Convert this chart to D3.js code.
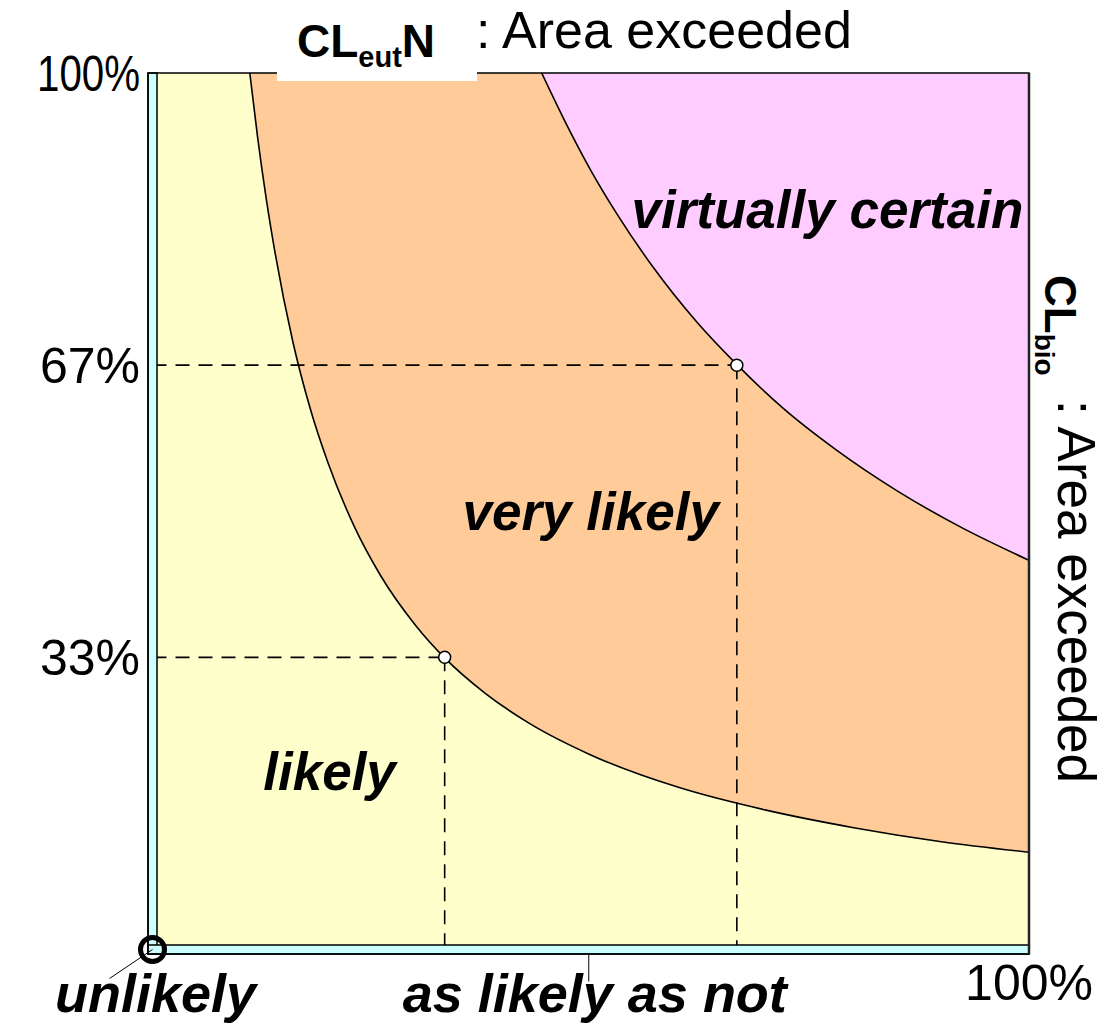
<!DOCTYPE html>
<html>
<head>
<meta charset="utf-8">
<script src="https://cdn.jsdelivr.net/npm/d3@7"></script>
<style>
  body { margin: 0; background: #fff; }
  text { font-family: Arial, "Liberation Sans", sans-serif; fill: #000; }
</style>
</head>
<body>
<script>
// boundary between "likely" and "very likely"
const lowX = [0.111, 0.12, 0.13, 0.14, 0.16, 0.18, 0.2, 0.23, 0.26, 0.3, 0.333, 0.38, 0.43, 0.5, 0.6, 0.7, 0.8, 0.9, 1.0];
const lowY = [1.0, 0.926, 0.855, 0.794, 0.694, 0.617, 0.556, 0.483, 0.427, 0.37, 0.333, 0.292, 0.258, 0.222, 0.185, 0.159, 0.139, 0.123, 0.111];
// boundary between "very likely" and "virtually certain"
const highX = [0.444, 0.47, 0.5, 0.53, 0.57, 0.62, 0.667, 0.72, 0.78, 0.85, 0.92, 1.0];
const highY = [1.0, 0.946, 0.889, 0.839, 0.78, 0.717, 0.667, 0.617, 0.57, 0.523, 0.483, 0.444];
// marked points on the curves
const markX = [1 / 3, 2 / 3];
const markY = [1 / 3, 2 / 3];
// y tick values and labels
const yTicks = [1 / 3, 2 / 3, 1];
const yTickLabels = ["33%", "67%", "100%"];
// zone names and where they sit
const zoneNames = ["virtually certain", "very likely", "likely"];
const zoneX = [0.77, 0.5, 0.202];
const zoneY = [0.823, 0.479, 0.182];

const width = 1105, height = 1024;

const svg = d3.select("body").append("svg")
  .attr("width", width)
  .attr("height", height);

const x = d3.scaleLinear().domain([0, 1]).range([152.5, 1029]);
const y = d3.scaleLinear().domain([0, 1]).range([949.5, 73]);

const strip = 4.5; // half width of the cyan axis strips
const inner = { x0: x(0) + strip, x1: x(1), y0: y(1), y1: y(0) - strip };

svg.append("defs").append("clipPath").attr("id", "plot")
  .append("rect")
  .attr("x", inner.x0).attr("y", inner.y0)
  .attr("width", inner.x1 - inner.x0).attr("height", inner.y1 - inner.y0);

const low = lowX.map((v, i) => [v, lowY[i]]);
const high = highX.map((v, i) => [v, highY[i]]);

const g = svg.append("g").attr("clip-path", "url(#plot)");

// yellow background
g.append("rect")
  .attr("x", inner.x0).attr("y", inner.y0)
  .attr("width", inner.x1 - inner.x0).attr("height", inner.y1 - inner.y0)
  .attr("fill", "#ffffcc");

const area = d3.area()
  .x(d => x(d[0]))
  .y0(d => y(d[1]))
  .y1(y(1))
  .curve(d3.curveMonotoneX);

g.append("path").datum(low).attr("d", area).attr("fill", "#ffcc99");
g.append("path").datum(high).attr("d", area).attr("fill", "#ffccff");

const line = d3.line()
  .x(d => x(d[0]))
  .y(d => y(d[1]))
  .curve(d3.curveMonotoneX);

g.selectAll("path.curve")
  .data([low, high])
  .join("path")
  .attr("class", "curve")
  .attr("d", line)
  .attr("fill", "none")
  .attr("stroke", "#000")
  .attr("stroke-width", 1.6);

// dashed guide lines
markX.forEach((mx, i) => {
  g.append("line")
    .attr("x1", x(0)).attr("x2", x(mx))
    .attr("y1", y(markY[i])).attr("y2", y(markY[i]))
    .attr("stroke", "#000").attr("stroke-width", 1.6)
    .attr("stroke-dasharray", "14,9");
  g.append("line")
    .attr("x1", x(mx)).attr("x2", x(mx))
    .attr("y1", y(markY[i])).attr("y2", y(0))
    .attr("stroke", "#000").attr("stroke-width", 1.6)
    .attr("stroke-dasharray", "14,9");
});

// cyan axis strips
svg.append("rect")
  .attr("x", x(0) - strip).attr("y", y(1))
  .attr("width", strip * 2).attr("height", y(0) + strip - y(1))
  .attr("fill", "#ccffff").attr("stroke", "#000").attr("stroke-width", 1.5);
svg.append("rect")
  .attr("x", x(0) - strip).attr("y", y(0) - strip)
  .attr("width", x(1) - x(0) + strip).attr("height", strip * 2)
  .attr("fill", "#ccffff").attr("stroke", "#000").attr("stroke-width", 1.5);

// outer frame
svg.append("rect")
  .attr("x", x(0) - strip).attr("y", y(1))
  .attr("width", x(1) - x(0) + strip).attr("height", y(0) + strip - y(1))
  .attr("fill", "none").attr("stroke", "#000").attr("stroke-width", 1.5);
svg.append("line")
  .attr("x1", x(1)).attr("x2", x(1))
  .attr("y1", y(1)).attr("y2", y(0) + strip)
  .attr("stroke", "#222").attr("stroke-width", 2.5);

// marked points
svg.selectAll("circle.mark")
  .data(markX)
  .join("circle")
  .attr("class", "mark")
  .attr("cx", d => x(d))
  .attr("cy", (d, i) => y(markY[i]))
  .attr("r", 6)
  .attr("fill", "#fff")
  .attr("stroke", "#000")
  .attr("stroke-width", 1.5);

// origin ring and leader to "unlikely"
svg.append("line")
  .attr("x1", x(0)).attr("y1", y(0))
  .attr("x2", x(0) - 43).attr("y2", y(0) + 29)
  .attr("stroke", "#000").attr("stroke-width", 1);
svg.append("circle")
  .attr("cx", x(0)).attr("cy", y(0))
  .attr("r", 12)
  .attr("fill", "none")
  .attr("stroke", "#000")
  .attr("stroke-width", 5);

// leader for "as likely as not"
svg.append("line")
  .attr("x1", x(0.5) - 2).attr("x2", x(0.5) - 2)
  .attr("y1", y(0) + strip).attr("y2", y(0) + 32)
  .attr("stroke", "#000").attr("stroke-width", 1);

// y tick labels
svg.selectAll("text.ytick")
  .data(yTicks)
  .join("text")
  .attr("class", "ytick")
  .attr("x", 140)
  .attr("y", d => y(d) + 18)
  .attr("text-anchor", "end")
  .style("font-size", "50px")
  .each(function (d) {
    if (d === 1) d3.select(this).attr("textLength", 103).attr("lengthAdjust", "spacingAndGlyphs");
  })
  .text((d, i) => yTickLabels[i]);

svg.append("text")
  .attr("x", 1093).attr("y", 1000)
  .attr("text-anchor", "end")
  .style("font-size", "50px")
  .text("100%");

// zone names
svg.selectAll("text.zone")
  .data(zoneNames)
  .join("text")
  .attr("class", "zone")
  .attr("x", (d, i) => x(zoneX[i]))
  .attr("y", (d, i) => y(zoneY[i]))
  .attr("text-anchor", "middle")
  .style("font-size", "53px")
  .style("font-weight", "bold")
  .style("font-style", "italic")
  .text(d => d);

svg.append("text")
  .attr("x", x(0) + 3).attr("y", 1012)
  .attr("text-anchor", "middle")
  .style("font-size", "54px")
  .style("font-weight", "bold")
  .style("font-style", "italic")
  .text("unlikely");
svg.append("text")
  .attr("x", x(0.5) + 4).attr("y", 1012)
  .attr("text-anchor", "middle")
  .style("font-size", "54px")
  .style("font-weight", "bold")
  .style("font-style", "italic")
  .text("as likely as not");

// title box over the top edge
svg.append("rect")
  .attr("x", 277).attr("y", 0)
  .attr("width", 200).attr("height", 81)
  .attr("fill", "#fff");

const t1 = svg.append("text")
  .attr("x", 297).attr("y", 57)
  .style("font-size", "46px")
  .style("font-weight", "bold");
t1.append("tspan").text("CL");
t1.append("tspan").attr("dy", 10).style("font-size", "29px").text("eut");
t1.append("tspan").attr("dy", -10).text("N");

svg.append("text")
  .attr("x", 476).attr("y", 48)
  .style("font-size", "52px")
  .text(": Area exceeded");

// right axis title, rotated
const t2 = svg.append("text")
  .attr("transform", "translate(1045,275) rotate(90)")
  .style("font-size", "44px")
  .style("font-weight", "bold");
t2.append("tspan").text("CL");
t2.append("tspan").attr("dy", 10).style("font-size", "28px").text("bio");

svg.append("text")
  .attr("transform", "translate(1058,400) rotate(90)")
  .style("font-size", "53px")
  .text(": Area exceeded");
</script>
</body>
</html>
